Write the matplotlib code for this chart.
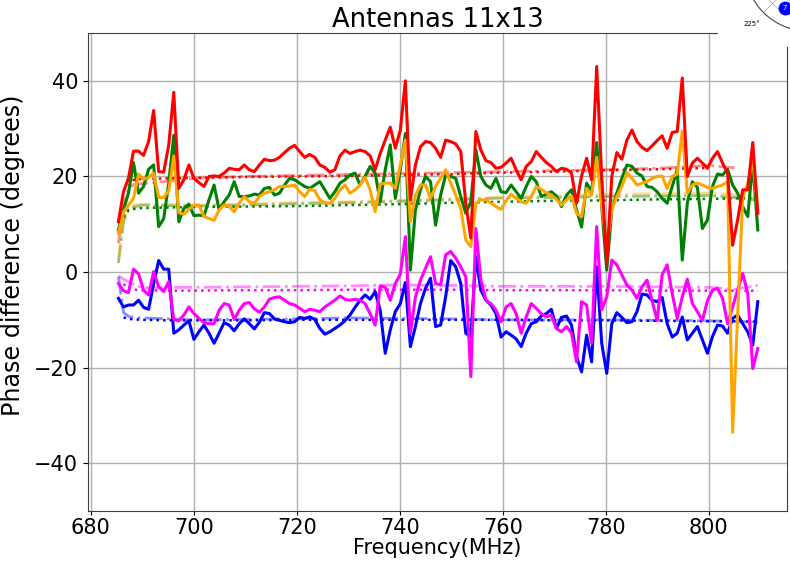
import matplotlib

matplotlib.use("Agg")
import matplotlib.pyplot as plt
import numpy as np
from matplotlib.patches import Rectangle

nan = np.nan

# 128 channels across the 685-810 MHz band
freq = np.linspace(685.4, 809.5, 128)

# per-channel phase differences (degrees) for each antenna pair
red = [
    10.5, 16.8, 19.6, 25.3, 25.3, 24.4, 27.3, 33.8, 21.0, 20.9, 26.6, 37.6, 17.5, 19.3, 22.4, 19.6,
    18.7, 17.9, 20.0, 20.1, 20.0, 20.7, 21.7, 21.5, 21.4, 22.4, 21.4, 21.0, 22.4, 23.6, 23.3, 23.4,
    24.0, 25.0, 25.9, 26.5, 25.2, 24.0, 24.6, 24.0, 22.4, 21.9, 20.9, 21.4, 24.3, 25.5, 24.8, 25.2,
    25.5, 25.2, 24.3, 21.4, 24.8, 27.6, 30.3, 25.9, 29.7, 40.0, 15.1, 22.4, 26.2, 27.3, 27.1,
    25.9, 24.0, 27.6, 27.3, 26.8, 25.2, 14.4, 7.1, 29.4, 25.5, 23.3, 22.9, 21.7, 21.9, 22.8, 23.8,
    21.4, 19.3, 22.1, 23.1, 25.2, 24.0, 22.9, 22.1, 21.0, 21.7, 21.5, 20.7, 14.4, 20.1, 23.8, 19.3,
    43.0, 20.0, 1.8, 20.0, 25.0, 23.6, 27.6, 29.7, 27.3, 26.1, 25.4, 26.4, 27.5, 28.5, 25.9, 29.2,
    29.4, 40.6, 20.0, 22.8, 23.8, 22.8, 21.7, 23.8, 25.2, 22.8, 20.7, 5.6, 10.9, 17.2, 17.2, 27.1,
    12.3,
]
green = [
    8.8, 13.0, 16.5, 22.9, 16.5, 17.9, 21.5, 22.4, 9.5, 11.2, 18.6, 28.6, 10.5, 13.3, 14.2, 11.8,
    11.9, 11.8, 15.1, 18.2, 13.0, 14.7, 16.1, 18.9, 15.8, 15.8, 15.9, 16.3, 16.1, 17.5, 17.7, 16.1,
    16.5, 18.2, 19.6, 19.3, 18.6, 17.9, 17.5, 18.2, 18.9, 17.2, 15.4, 16.8, 18.6, 19.3, 20.3, 20.7,
    18.2, 20.0, 22.1, 20.7, 14.7, 21.4, 26.6, 15.4, 21.4, 29.0, 0.4, 13.0, 17.2, 20.0, 18.9,
    9.8, 16.1, 20.3, 20.0, 19.6, 15.8, 12.3, 14.7, 25.5, 20.0, 18.2, 17.5, 19.6, 16.8, 16.6, 18.2,
    16.8, 15.4, 17.9, 20.0, 18.9, 15.8, 16.3, 16.8, 15.9, 13.7, 16.1, 17.2, 13.0, 9.4, 18.6, 16.8,
    27.1, 13.7, 0.4, 13.0, 16.5, 19.6, 22.4, 22.1, 20.7, 20.1, 17.9, 17.7, 16.8, 15.4, 14.4, 17.9,
    21.4, 2.5, 14.4, 18.9, 17.7, 9.1, 10.9, 17.9, 20.5, 20.3, 21.5, 18.2, 16.5, 13.7, 11.6, 22.8,
    8.8,
]
orange = [
    8.1, 12.6, 14.0, 15.4, 20.5, 19.4, 19.8, 20.7, 15.6, 15.6, 17.0, 24.3, 12.4, 12.1, 13.1, 14.0,
    14.0, 11.6, 11.2, 10.8, 13.0, 14.0, 13.7, 12.6, 14.4, 15.8, 14.7, 14.4, 15.8, 16.5, 16.8, 17.2,
    17.9, 17.9, 18.0, 18.2, 16.8, 15.8, 17.3, 17.0, 15.1, 14.5, 14.4, 15.4, 17.2, 18.2, 16.5, 17.2,
    18.2, 19.8, 17.2, 12.6, 18.4, 18.6, 18.6, 17.5, 22.4, 27.6, 10.5, 16.1, 18.2, 18.2, 15.4,
    17.9, 19.6, 21.4, 18.6, 16.1, 13.3, 6.7, 5.3, 14.4, 15.1, 15.1, 14.4, 13.7, 13.1, 14.9, 16.3,
    15.4, 14.7, 14.4, 15.8, 17.9, 17.3, 16.6, 16.1, 15.2, 14.0, 15.1, 15.9, 12.3, 11.6, 17.5, 16.1,
    24.0, 14.0, 5.3, 13.0, 15.8, 17.9, 20.8, 19.6, 18.2, 18.6, 18.9, 19.6, 20.0, 20.1, 17.5, 20.0,
    20.5, 29.5, 16.5, 18.2, 18.6, 18.2, 17.7, 17.5, 17.9, 18.2, 18.9, -33.5, -9.0, 15.5, 18.6, 23.5,
    13.0,
]
blue = [
    -5.5, -7.3, -6.9, -6.9, -5.9, -7.4, -7.8, -2.4, 2.4, 0.6, 0.6, -12.8, -12.1, -11.1, -10.2, -14.1,
    -12.5, -11.1, -12.8, -14.9, -12.8, -10.6, -11.1, -12.3, -10.8, -9.8, -10.8, -11.9, -10.5, -8.5, -8.7, -9.8,
    -10.1, -10.4, -10.6, -10.4, -9.5, -9.7, -9.4, -9.9, -11.8, -13.0, -12.5, -11.8, -11.1, -10.2, -9.0, -7.4,
    -5.9, -4.8, -5.7, -4.1, -8.0, -17.0, -12.1, -8.3, -6.6, -2.2, -15.6, -11.4, -6.6, -3.4, -1.3,
    -11.4, -11.1, -5.2, 2.4, 1.1, -2.4, -12.8, -13.6, 3.2, -3.8, -5.9, -6.9, -8.7, -13.6, -12.5, -13.2,
    -14.0, -15.6, -12.8, -10.8, -10.4, -9.2, -8.7, -7.8, -11.8, -9.5, -9.2, -11.1, -17.7, -20.9, -13.2, -18.8,
    1.1, -14.9, -21.2, -10.8, -8.5, -9.5, -10.6, -10.4, -8.3, -4.6, -4.8, -5.9, -6.2, -5.3, -10.8, -13.6,
    -12.8, -9.4, -14.2, -12.8, -11.4, -14.2, -17.0, -13.5, -11.1, -11.3, -12.8, -9.7, -9.0, -10.8, -12.5, -15.3,
    -6.2,
]
magenta = [
    -2.4, -3.9, -4.3, 0.6, -0.4, -3.8, -4.8, 0.1, -3.1, -4.1, -2.0, -9.9, -10.2, -9.0, -7.3, -8.7,
    -9.7, -10.6, -10.8, -10.8, -8.0, -6.6, -6.9, -9.9, -8.0, -6.6, -6.4, -7.7, -8.4, -7.3, -5.7, -5.3,
    -5.2, -5.9, -6.6, -6.9, -7.6, -8.3, -7.8, -8.0, -8.3, -7.3, -6.6, -5.9, -5.0, -5.7, -5.9, -5.7,
    -5.9, -6.6, -8.7, -11.1, -2.9, -3.2, -5.9, -2.4, -0.4, 7.4, -12.8, -5.2, -1.7, 0.8, 3.2,
    -2.4, -2.7, 3.6, 4.3, 2.9, 1.1, -1.0, -21.9, 9.1, -1.7, -5.9, -6.6, -8.0, -10.4, -7.3, -6.6,
    -8.7, -12.8, -9.4, -6.6, -7.6, -8.7, -9.4, -9.0, -11.8, -12.5, -11.4, -12.8, -18.8, -6.2, -6.9, -14.9,
    9.5, -7.9, -5.2, 2.5, 1.5, -0.6, -2.7, -3.8, -5.5, -3.1, -1.7, -6.0, -10.1, -0.6, 1.5, -4.5,
    -9.7, -5.2, -1.5, -6.6, -8.3, -10.1, -6.0, -3.8, -3.4, -5.5, -10.8, -7.3, -3.8, -0.3, -4.5, -20.2,
    -16.0,
]

# smoothed / model curves, sampled coarsely in frequency
fit_freq = [685.4, 686.4, 687.4, 688.4, 690, 695, 700, 710, 720, 730, 740, 750, 760, 770,
            780, 790, 800, 805, 809.5]
red_model = [nan, nan, 18.0, 19.3, 19.5, 19.6, 19.7, 19.9, 20.0, 20.1, 20.3, 20.5, 20.8, 21.0,
             21.3, 21.5, 21.8, nan, nan]
red_smooth = [6.0, 14.0, 17.5, 18.3, 18.5, 19.0, 19.6, 20.0, 20.2, 20.4, 20.6, 20.8, 21.0, 21.2,
              21.4, 21.7, 22.3, 21.8, nan]
green_model = [nan, 11.5, 13.0, 13.2, 13.4, 13.5, 13.6, 13.7, 13.8, 14.0, 14.2, 14.5, 14.7, 14.9,
               15.0, 15.2, 15.3, 15.4, 15.5]
green_smooth = [1.9, 10.5, 13.2, 13.6, 14.0, 13.9, 13.8, 14.0, 14.3, 14.5, 14.8, 15.1, 15.5, 15.6,
                15.8, 15.9, 16.0, 15.6, 15.0]
orange_smooth = [2.5, 11.0, 13.8, 14.0, 14.2, 14.1, 14.0, 14.2, 14.5, 14.7, 15.0, 15.3, 15.6, 15.9,
                 16.2, 16.4, 16.5, 16.2, 15.5]
blue_model = [nan, -9.5, -9.8, -9.9, -10.0, -10.1, -10.1, -10.1, -10.0, -10.0, -10.0, -10.0,
              -10.0, -10.1, -10.1, -10.2, -10.3, -10.3, -10.4]
blue_smooth = [-1.0, -8.5, -9.3, -9.5, -9.6, -9.8, -10.0, -9.9, -9.8, -9.6, -9.7, -9.8, -10.0,
               -10.0, -10.0, -10.1, -10.2, -10.3, -10.5]
magenta_model = [nan, -2.5, -3.5, -3.7, -3.8, -3.9, -3.9, -3.8, -3.8, -3.7, -3.7, -3.7, -3.8,
                 -3.8, -3.8, -3.9, -3.9, -3.9, -3.9]
magenta_smooth = [-0.8, -1.5, -2.0, -2.6, -3.3, -3.2, -3.2, -3.1, -3.0, -2.9, -2.7, -2.8, -3.0,
                  -3.0, -3.0, -3.1, -3.2, -3.6, -2.8]

solid = [
    ("blue", blue),
    ("magenta", magenta),
    ("green", green),
    ("orange", orange),
    ("red", red),
]
model = [
    ("red", red_model),
    ("green", green_model),
    ("blue", blue_model),
    ("magenta", magenta_model),
]
smooth = [
    ("red", red_smooth),
    ("green", green_smooth),
    ("orange", orange_smooth),
    ("blue", blue_smooth),
    ("magenta", magenta_smooth),
]

# bearing (deg) and radius of the marker on the small polar panel
polar_theta = 240
polar_r = 0.73
polar_label = "7"
theta_labels = ["", "", "", "", "", "225°", "", ""]


def main():
    fig = plt.figure(figsize=(7.9, 5.61), dpi=100)
    ax = fig.add_axes([0.1114, 0.0891, 0.885, 0.852])

    for color, vals in smooth:
        ax.plot(fit_freq, vals, color=color, ls="-.", lw=2.0, alpha=0.45)
    for color, vals in model:
        ax.plot(fit_freq, vals, color=color, ls=":", lw=1.8)
    for color, vals in solid:
        ax.plot(freq, vals, color=color, lw=2.2)

    ax.set_xlim(679.5, 815.2)
    ax.set_ylim(-50, 50)
    ax.set_xticks(range(680, 801, 20))
    ax.set_yticks(range(-40, 41, 20))
    ax.tick_params(labelsize=15)
    ax.tick_params(axis="x", length=3, pad=2)
    ax.grid(True, color="#b0b0b0", lw=1.0)
    for sp in ax.spines.values():
        sp.set_color("0.25")
    ax.set_title("Antennas 11x13", fontsize=18.5, pad=3)
    ax.set_xlabel("Frequency(MHz)", fontsize=15, labelpad=0)
    ax.set_ylabel("Phase difference (degrees)", fontsize=17.2)
    ax.yaxis.set_label_coords(-0.09, 0.535)

    # neighbouring polar panel poking in at the top-right corner
    fig.add_artist(Rectangle((718 / 790, 1 - 47 / 561), 72 / 790, 47 / 561,
                             transform=fig.transFigure, facecolor="white",
                             edgecolor="none", zorder=5))
    pax = fig.add_axes([745 / 790, 1 - 31 / 561, 126 / 790, 126 / 561], projection="polar")
    pax.set_zorder(10)
    pax.set_ylim(0, 1)
    pax.set_yticklabels([])
    pax.set_thetagrids(range(0, 360, 45), theta_labels)
    pax.tick_params(labelsize=5, pad=1)
    pax.grid(True, color="#b0b0b0", lw=0.6)
    pax.spines["polar"].set_color("0.3")
    pax.spines["polar"].set_linewidth(0.8)
    th = np.deg2rad(polar_theta)
    pax.plot([th], [polar_r], "o", color="blue", ms=9)
    pax.text(th, polar_r, polar_label, color="white", fontsize=5, ha="center", va="center")

    fig.savefig("out.png", dpi=100)
    plt.close(fig)


if __name__ == "__main__":
    main()
